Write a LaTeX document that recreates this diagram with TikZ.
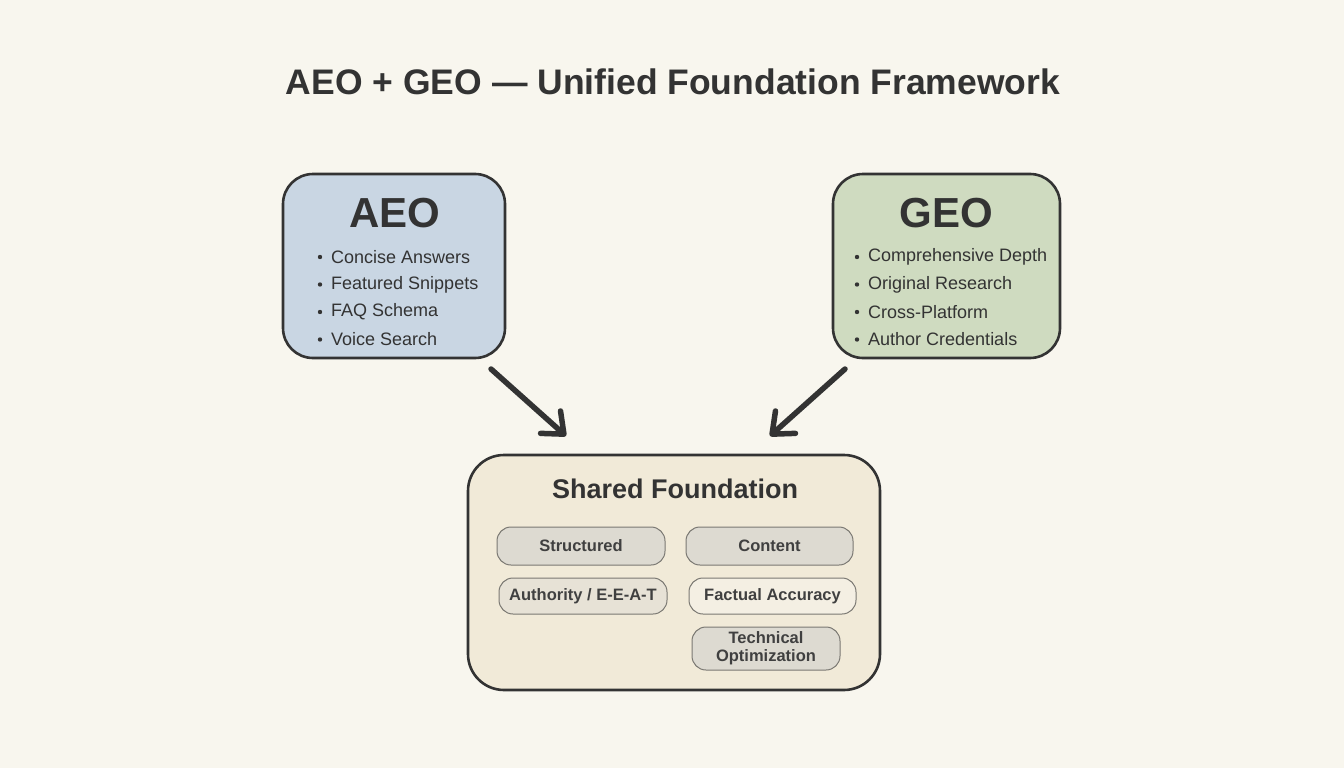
\documentclass[tikz,border=0pt]{standalone}
\usepackage{fontspec}
\setmainfont{Liberation Sans}
\usetikzlibrary{arrows.meta}
\definecolor{bgc}{HTML}{F8F6EE}
\definecolor{ink}{HTML}{333333}
\definecolor{pillink}{HTML}{404040}
\definecolor{aeofill}{HTML}{C9D6E3}
\definecolor{geofill}{HTML}{CFDBC0}
\definecolor{shfill}{HTML}{F1EAD8}
\definecolor{pillgray}{HTML}{DDDAD1}
\definecolor{pilllight}{HTML}{E7E2D6}
\definecolor{pillpale}{HTML}{F4EFE3}
\definecolor{pillline}{HTML}{7A7872}
\begin{document}
\begin{tikzpicture}[x=1pt,y=-1pt,
  bigbox/.style={draw=ink, line width=2.6pt, rounded corners=30pt, inner sep=0pt},
  pill/.style={draw=pillline, line width=1pt, rounded corners=14pt, inner sep=0pt, text=pillink, font=\bfseries\fontsize{16.5}{18}\selectfont, align=center},
  heading/.style={text=ink, font=\bfseries\fontsize{42}{48}\selectfont, inner sep=0pt},
  item/.style={text=ink, font=\fontsize{18}{22}\selectfont, anchor=west, inner sep=0pt},
  flowarrow/.style={draw=ink, line width=5.5pt, line cap=round, -{Straight Barb[length=18pt, width=30pt, round]}}
]
\useasboundingbox[fill=bgc] (0,0) rectangle (1344,768);

\node[text=ink, font=\bfseries\fontsize{35.5}{40}\selectfont, inner sep=0pt] (title) at (673,82) {AEO + GEO — Unified Foundation Framework};

% AEO box
\node[bigbox, fill=aeofill, minimum width=222pt, minimum height=184pt] (aeo) at (394,266) {};
\node[heading] (aeoh) at (395,213) {AEO};
\node[item] (a1) at (331,257) {Concise Answers};
\node[item] (a2) at (331,284.5) {Featured Snippets};
\node[item] (a3) at (331,312) {FAQ Schema};
\node[item] (a4) at (331,339.5) {Voice Search};
\foreach \n in {a1,a2,a3,a4} \fill[ink] ([xshift=-11pt]\n.west) circle (2.2pt);

% GEO box
\node[bigbox, fill=geofill, minimum width=227pt, minimum height=184pt] (geo) at (946.5,266) {};
\node[heading] (geoh) at (946,213) {GEO};
\node[item] (g1) at (868,257) {Comprehensive Depth};
\node[item] (g2) at (868,284.5) {Original Research};
\node[item] (g3) at (868,312) {Cross-Platform};
\node[item] (g4) at (868,339.5) {Author Credentials};
\foreach \n in {g1,g2,g3,g4} \fill[ink] ([xshift=-11pt]\n.west) circle (2.2pt);

% Shared foundation
\node[bigbox, fill=shfill, minimum width=412pt, minimum height=235pt, rounded corners=36pt] (shared) at (674,572.5) {};
\node[text=ink, font=\bfseries\fontsize{27}{32}\selectfont, inner sep=0pt] (sh) at (675,489) {Shared Foundation};

\node[pill, fill=pillgray, minimum width=168pt, minimum height=38pt] (p1) at (581,546) {Structured};
\node[pill, fill=pillgray, minimum width=167pt, minimum height=38pt] (p2) at (769.5,546) {Content};
\node[pill, fill=pilllight, minimum width=168pt, minimum height=36pt] (p3) at (583,596) {Authority / E-E-A-T};
\node[pill, fill=pillpale, minimum width=167pt, minimum height=36pt] (p4) at (772.5,596) {Factual Accuracy};
\node[pill, fill=pillgray, minimum width=148pt, minimum height=43pt] (p5) at (766,648.5) {Technical\\Optimization};

% arrows
\coordinate (l1) at (491,369);
\coordinate (l2) at (566,436);
\coordinate (r1) at (845,369);
\coordinate (r2) at (770,436);
\draw[flowarrow] (l1) -- (l2);
\draw[flowarrow] (r1) -- (r2);
\end{tikzpicture}
\end{document}
